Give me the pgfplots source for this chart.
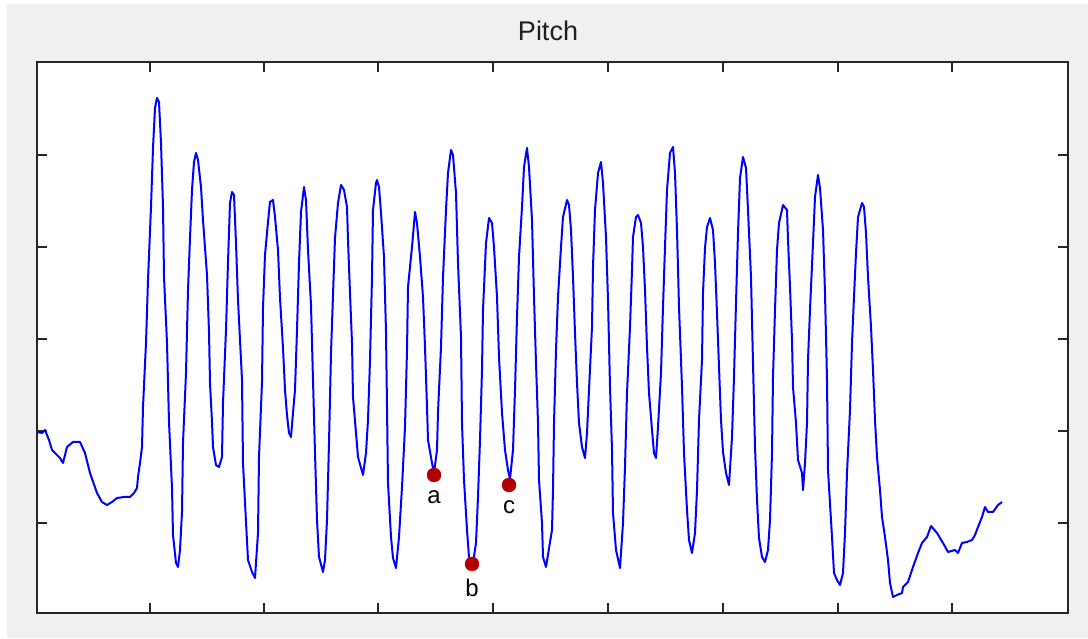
\documentclass[border=0pt]{standalone}
\usepackage{pgfplots}
\pgfplotsset{compat=1.18}
\usepackage{fontspec}
\setmainfont{Liberation Sans}
\definecolor{figgray}{RGB}{240,240,240}
\definecolor{axcol}{RGB}{38,38,38}
\definecolor{dotred}{RGB}{178,0,0}
\definecolor{pblue}{RGB}{0,0,255}
\begin{document}
\begin{tikzpicture}[x=1pt,y=1pt]
\fill[white] (0,0) rectangle (1088,638);
\fill[figgray] (7,0) rectangle (1088,634);
\node[font=\fontsize{27}{32}\selectfont, text=black!88, anchor=base, inner sep=0pt] at (548,597) {Pitch};
\begin{axis}[
  at={(37pt,25pt)}, anchor=south west,
  scale only axis, width=1031pt, height=551pt,
  xmin=37, xmax=1068, ymin=0, ymax=551,
  xtick={150,264,378,493,608,723,838,952},
  ytick={90,182,274,366,458},
  xticklabels={}, yticklabels={},
  major tick length=10pt, tick align=inside,
  axis line style={line width=1.8pt, color=axcol},
  tick style={line width=1.8pt, color=axcol},
  axis background/.style={fill=white},
]
\addplot[pblue, line width=2pt, sharp plot, mark=none, line join=round] coordinates {
(37,181)(42,180)(45,183)(49,173)(52,163)(57,158)(60,155)(63,150)(65,158)(67,166)(73,171)(80,171)(85,160)(90,140)(97,120)(102,111)(107,108)(112,111)(117,115)(124,116)(130,116)(134,120)(137,125)(138,136)(140,150)(142,166)(143,206)(146,270)(148,333)(151,406)(153,465)(155,505)(157,515)
(159,511)(161,470)(163,406)(164,336)(167,270)(169,191)(172,125)(173,78)(176,50)(178,46)
(180,63)(182,101)(183,170)(186,240)(188,323)(190,375)(192,423)(194,451)(196,460)
(198,453)(201,426)(203,393)(207,338)(209,281)(210,230)(212,191)(213,166)(216,148)(219,146)
(222,156)(223,210)(226,283)(228,351)(230,410)(232,421)
(234,418)(236,370)(238,313)(242,233)(243,150)(246,91)(248,53)(252,41)(255,35)
(258,80)(259,156)(262,231)(263,305)(265,358)(268,391)(270,411)(273,413)
(275,396)(278,363)(280,315)(283,265)(285,223)(287,198)(289,180)(291,176)
(293,200)(295,223)(297,283)(299,350)(301,401)(304,426)
(306,413)(308,363)(311,308)(313,233)(315,160)(317,93)(319,56)(323,41)
(325,53)(327,93)(329,170)(331,260)(333,318)(335,375)(338,410)(341,428)
(344,423)(347,406)(348,373)(350,320)(352,270)(353,216)(356,180)(358,156)(363,138)
(366,160)(368,193)(370,253)(372,336)(373,403)(376,430)(377,433)
(379,426)(381,400)(384,356)(386,281)(387,206)(388,130)(391,76)(393,55)(396,45)
(399,76)(402,126)(405,186)(407,263)(408,326)(412,366)(415,401)
(417,390)(420,356)(423,316)(425,266)(427,206)(428,173)(432,150)(434,140)
(437,163)(438,201)(441,266)(443,336)(446,403)(448,440)(451,463)
(453,458)(456,420)(458,350)(461,276)(462,190)(464,133)(467,83)(469,56)(473,50)
(476,70)(478,116)(480,173)(482,243)(483,303)(486,370)(489,395)
(492,390)(494,366)(497,316)(499,256)(502,200)(505,163)(508,143)(510,134)
(513,163)(515,223)(517,296)(519,356)(522,406)(524,446)(527,465)
(529,446)(532,393)(534,316)(536,250)(538,190)(539,133)(542,90)(543,56)(546,46)
(552,83)(553,123)(554,190)(556,263)(558,316)(561,366)(563,396)(567,413)
(569,408)(571,383)(573,336)(575,280)(577,230)(579,190)(582,166)(585,155)
(587,180)(589,223)(592,286)(593,346)(595,403)(598,440)(601,451)
(603,430)(606,376)(608,313)(610,226)(612,163)(613,100)(616,63)(620,45)
(623,90)(625,146)(627,220)(630,286)(632,343)(633,376)(636,396)(638,398)
(641,390)(643,366)(645,323)(647,266)(649,220)(652,183)(654,160)(656,155)
(658,186)(661,240)(663,306)(665,366)(667,423)(670,460)(673,466)
(675,440)(677,383)(679,306)(682,226)(684,160)(687,103)(689,73)(692,60)
(695,80)(697,123)(699,193)(702,253)(703,320)(705,365)(707,386)(710,395)
(713,383)(715,350)(717,300)(719,246)(721,193)(723,161)(726,140)(729,128)
(732,176)(734,236)(736,310)(738,380)(740,435)(743,456)
(746,445)(748,403)(751,336)(753,250)(755,166)(757,113)(759,75)(762,56)(765,51)
(768,63)(770,93)(772,160)(773,236)(775,303)(777,363)(779,390)(783,408)
(787,403)(788,373)(790,326)(792,273)(793,226)(796,190)(798,153)(802,140)(803,123)
(805,150)(807,190)(808,253)(810,303)(813,370)(815,416)(818,438)
(820,425)(823,383)(825,320)(827,233)(828,143)(832,76)(834,40)(837,33)(840,28)
(843,40)(845,80)(847,140)(850,203)(852,270)(854,316)(856,360)(858,396)(862,410)
(864,406)(866,380)(868,336)(871,286)(873,243)(875,193)(877,156)(880,123)(882,96)(885,76)(888,53)(890,30)(893,16)
(897,18)(902,20)(903,26)(908,31)(913,46)(918,60)(922,70)(927,76)(931,87)(937,80)(943,70)(948,61)(955,63)(958,60)(962,70)(967,71)(972,73)(975,78)(978,86)(982,96)(985,106)(988,101)(993,101)(998,108)(1002,111)
};
\addplot[only marks, mark=*, mark size=7pt, mark options={draw=dotred, fill=dotred},
  nodes near coords, point meta=explicit symbolic,
  nodes near coords style={anchor=north, yshift=-15pt, inner sep=0pt, text=black, font=\fontsize{24}{28}\selectfont}]
  coordinates {(434,138)[a] (472,49)[b] (509,128)[c]};
\end{axis}
\end{tikzpicture}
\end{document}
